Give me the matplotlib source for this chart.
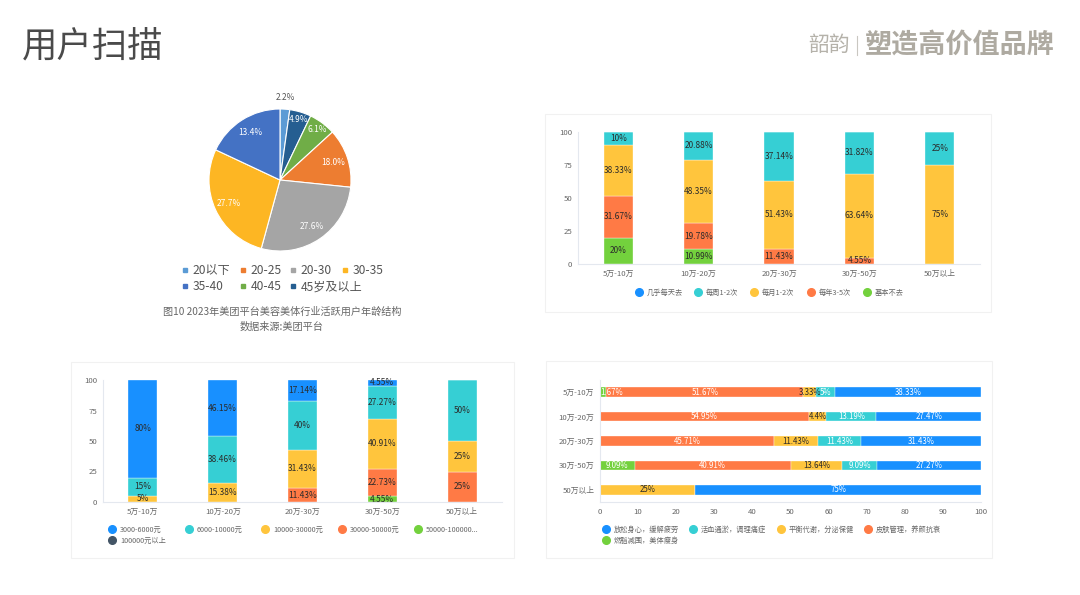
import math

import matplotlib
matplotlib.use("Agg")
import matplotlib.pyplot as plt
from matplotlib.lines import Line2D
from matplotlib.patches import Rectangle

plt.rcParams["font.family"] = ["Noto Sans CJK SC", "DejaVu Sans"]

W, H = 1080, 595

# slice order around the pie, clockwise from the top
pie_names = ["20以下", "45岁及以上", "40-45", "20-25", "20-30", "30-35", "35-40"]
pie_sizes = [2.2, 4.9, 6.1, 13.4, 27.6, 27.7, 18.0]
pie_labels = ["2.2%", "4.9%", "6.1%", "18.0%", "27.6%", "27.7%", "13.4%"]
pie_colors = {
    "20以下": "#5b9bd5", "20-25": "#ed7d31", "20-30": "#a5a5a5", "30-35": "#fdb623",
    "35-40": "#4472c4", "40-45": "#70ad47", "45岁及以上": "#255e91",
}

income = ["5万-10万", "10万-20万", "20万-30万", "30万-50万", "50万以上"]

freq_names = ["基本不去", "每年3-5次", "每月1-2次", "每周1-2次", "几乎每天去"]
freq_values = [
    [20, 10.99, 0, 0, 0],
    [31.67, 19.78, 11.43, 4.55, 0],
    [38.33, 48.35, 51.43, 63.64, 75],
    [10, 20.88, 37.14, 31.82, 25],
    [0, 0, 0, 0, 0],
]

spend_names = ["100000元以上", "50000-100000...", "30000-50000元", "10000-30000元", "6000-10000元", "3000-6000元"]
spend_values = [
    [0, 0, 0, 0, 0],
    [0, 0, 0, 4.55, 0],
    [0, 0, 11.43, 22.73, 25],
    [5, 15.38, 31.43, 40.91, 25],
    [15, 38.46, 40, 27.27, 50],
    [80, 46.15, 17.14, 4.55, 0],
]

need_names = ["燃脂减围，美体瘦身", "皮肤管理，养颜抗衰", "平衡代谢，分泌保健", "活血通淤，调理痛症", "放松身心，缓解疲劳"]
need_values = [
    [1.67, 0, 0, 9.09, 0],
    [51.67, 54.95, 45.71, 40.91, 0],
    [3.33, 4.4, 11.43, 13.64, 25],
    [5, 13.19, 11.43, 9.09, 0],
    [38.33, 27.47, 31.43, 27.27, 75],
]

GREEN, ORANGE, YELLOW, TEAL, BLUE, SLATE = "#73d13d", "#ff7a45", "#ffc53d", "#36cfd4", "#1890ff", "#435566"
TICK = "#666666"
AXIS = "#e4e8ef"


def px_axes(fig, x0, y0, x1, y1):
    """axes from pixel box, y counted from the top of the image"""
    return fig.add_axes([x0 / W, 1 - y1 / H, (x1 - x0) / W, (y1 - y0) / H])


def fmt(v):
    return f"{v:g}%"


def style_axes(ax):
    for side in ("top", "right"):
        ax.spines[side].set_visible(False)
    for side in ("left", "bottom"):
        ax.spines[side].set_color(AXIS)
        ax.spines[side].set_linewidth(0.8)
    ax.tick_params(length=0, labelsize=5.6, labelcolor=TICK, pad=4)


def legend_column(fig, entries, x, y, marker="o", ms=5.5, fontsize=5.2, color=TICK, rowgap=0.35, textpad=0.65):
    """one legend per column so the columns land at fixed pixel positions"""
    handles = [Line2D([], [], ls="", marker=marker, ms=ms, mfc=c, mec=c, label=n) for n, c in entries]
    fig.legend(
        handles=handles, loc="upper left", bbox_to_anchor=(x / W, 1 - y / H), frameon=False,
        fontsize=fontsize, labelcolor=color, handlelength=1, handletextpad=textpad,
        labelspacing=rowgap, borderpad=0, borderaxespad=0,
    )


def stacked(ax, values, colors):
    bottom = [0] * len(income)
    for series, color in zip(values, colors):
        ax.bar(income, series, width=0.365, bottom=bottom, color=color, edgecolor="white", linewidth=0.25)
        for i, v in enumerate(series):
            if v > 0:
                ax.text(i, bottom[i] + v / 2, fmt(v), ha="center", va="center", fontsize=6, color="#2b2b2b")
        bottom = [b + v for b, v in zip(bottom, series)]
    ax.set_xlim(-0.5, 4.5)
    ax.set_ylim(0, 100)
    ax.set_yticks([0, 25, 50, 75, 100])
    style_axes(ax)


fig = plt.figure(figsize=(W / 100, H / 100), dpi=100, facecolor="white")

# page layer: panels, title, logo
page = fig.add_axes([0, 0, 1, 1])
page.set_xlim(0, W)
page.set_ylim(H, 0)
page.axis("off")
for x0, y0, x1, y1 in [(545, 114, 991, 312), (71, 362, 514, 558), (546, 361, 992, 558)]:
    page.add_patch(Rectangle((x0, y0), x1 - x0, y1 - y0, fc="white", ec="#f1f1f1", lw=0.8))
page.text(22, 47, "用户扫描", fontsize=25.5, color="#4a4a4a", va="center", ha="left", fontweight="light")
page.text(829, 45, "韶韵", fontsize=15, color="#b5b2aa", va="center", ha="center", fontweight="light")
page.plot([857, 857], [36, 55], color="#c9c7c1", lw=0.8)
page.text(865, 45, "塑造高价值品牌", fontsize=19.5, color="#aeaaa1", va="center", ha="left", fontweight="bold")
page.text(282, 312, "图10 2023年美团平台美容美体行业活跃用户年龄结构", fontsize=7.3, color="#666666", ha="center", va="center")
page.text(282, 327, "数据来源:美团平台", fontsize=7.3, color="#666666", ha="center", va="center")

# pie
ax_pie = px_axes(fig, 209, 109, 351, 251)
wedges, _ = ax_pie.pie(
    pie_sizes, colors=[pie_colors[n] for n in pie_names], startangle=90, counterclock=False, radius=1,
    wedgeprops={"edgecolor": "white", "linewidth": 0.8}, normalize=True,
)
ax_pie.set_xlim(-1, 1)
ax_pie.set_ylim(-1, 1)
for wedge, size, label in zip(wedges, pie_sizes, pie_labels):
    mid = math.radians((wedge.theta1 + wedge.theta2) / 2)
    r = 1.16 if size < 3 else (0.89 if size < 10 else 0.79)
    ax_pie.text(r * math.cos(mid), r * math.sin(mid), label, ha="center", va="center", fontsize=6,
                color="#555555" if size < 3 else "white", clip_on=False)

pie_columns = [(179, ["20以下", "35-40"]), (237, ["20-25", "40-45"]), (287, ["20-30", "45岁及以上"]), (339, ["30-35"])]
for x, names in pie_columns:
    legend_column(fig, [(n, pie_colors[n]) for n in names], x, 264, marker="s", ms=3.5,
                  fontsize=8.7, color="#555555", rowgap=0.28, textpad=0.12)

# visit frequency
ax_freq = px_axes(fig, 578, 132, 980, 264)
stacked(ax_freq, freq_values, [GREEN, ORANGE, YELLOW, TEAL, BLUE])
for x, name, color in zip([635, 694, 750, 807, 863], freq_names[::-1], [BLUE, TEAL, YELLOW, ORANGE, GREEN]):
    legend_column(fig, [(name, color)], x, 289)

# monthly spend
ax_spend = px_axes(fig, 103, 380, 502, 502)
stacked(ax_spend, spend_values, [SLATE, GREEN, ORANGE, YELLOW, TEAL, BLUE])
for x, names, colors in zip(
    [108, 185, 261, 338, 414],
    [[spend_names[5], spend_names[0]], [spend_names[4]], [spend_names[3]], [spend_names[2]], [spend_names[1]]],
    [[BLUE, SLATE], [TEAL], [YELLOW], [ORANGE], [GREEN]],
):
    legend_column(fig, list(zip(names, colors)), x, 526)

# purpose of visit, horizontal
ax_need = px_axes(fig, 600, 380, 981, 502)
left = [0] * len(income)
need_colors = [GREEN, ORANGE, YELLOW, TEAL, BLUE]
for series, color in zip(need_values, need_colors):
    ax_need.barh(income, series, height=0.39, left=left, color=color, edgecolor="white", linewidth=0.25)
    for i, v in enumerate(series):
        if v <= 0:
            continue
        text_color = "#2b2b2b" if color == YELLOW else "white"
        if v < 3:
            ax_need.text(left[i], i, fmt(v), ha="left", va="center", fontsize=5.7, color=text_color)
        else:
            ax_need.text(left[i] + v / 2, i, fmt(v), ha="center", va="center", fontsize=5.7, color=text_color)
    left = [a + v for a, v in zip(left, series)]
ax_need.set_xlim(0, 100)
ax_need.set_ylim(4.5, -0.5)
ax_need.set_xticks(range(0, 101, 10))
style_axes(ax_need)
for x, names, colors in zip(
    [602, 689, 777, 864],
    [[need_names[4], need_names[0]], [need_names[3]], [need_names[2]], [need_names[1]]],
    [[BLUE, GREEN], [TEAL], [YELLOW], [ORANGE]],
):
    legend_column(fig, list(zip(names, colors)), x, 526)

fig.savefig("out.png", dpi=100)
plt.close(fig)
